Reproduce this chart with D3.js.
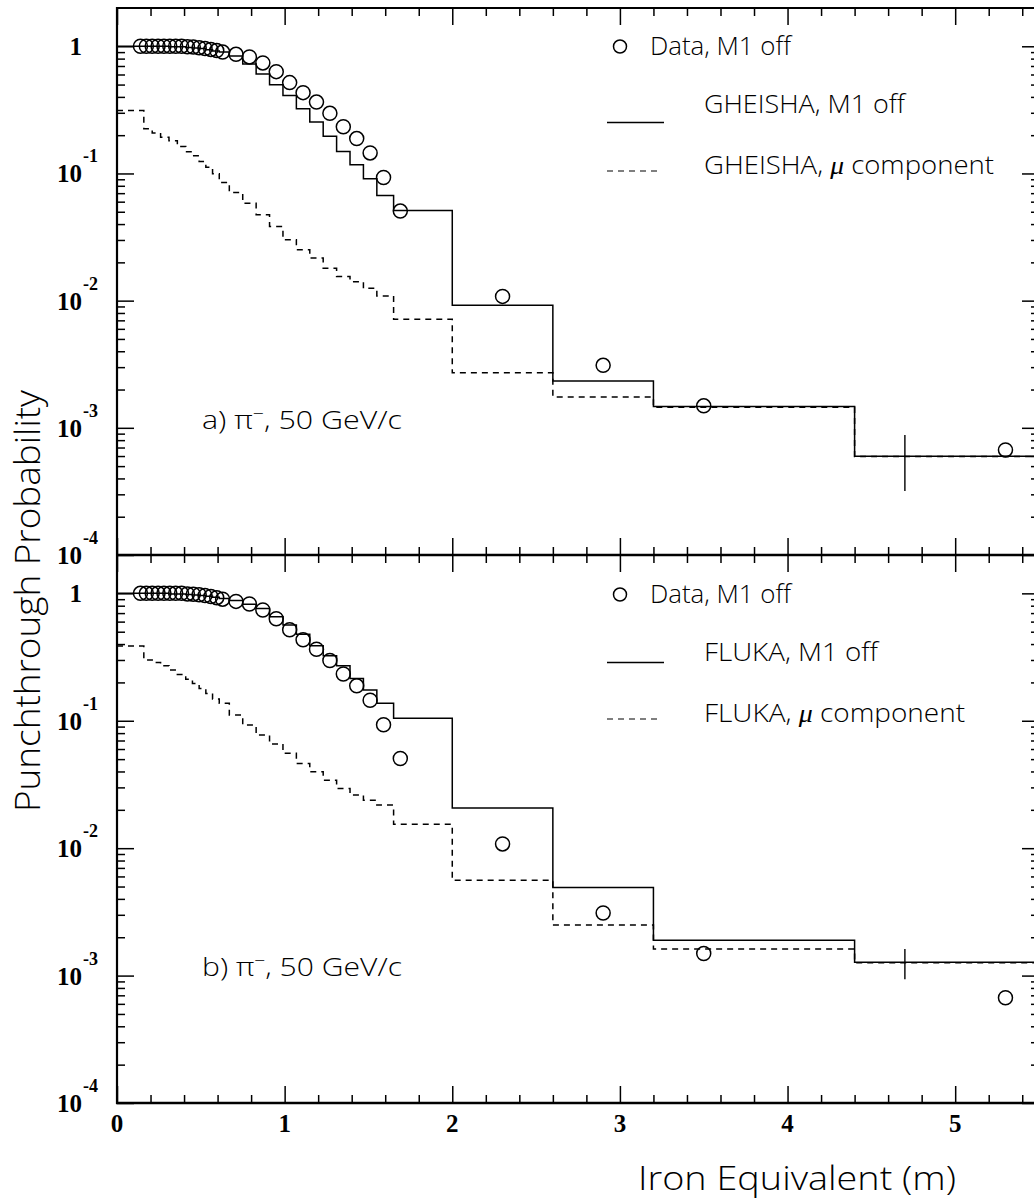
<!DOCTYPE html>
<html>
<head>
<meta charset="utf-8">
<script src="https://cdn.jsdelivr.net/npm/d3@7"></script>
<style>
body { margin: 0; background: #fff; }
svg { display: block; }
.num { font-family: "Liberation Serif", "Times New Roman", serif; font-weight: bold; }
.txt { font-family: "Open Sans", "DejaVu Sans", sans-serif; font-weight: 300; fill: #000; }
</style>
</head>
<body>
<svg id="chart" width="1034" height="1201"></svg>
<script>
// bin edges in m of iron equivalent, shared by all four histograms
var binEdges = [0, 0.16, 0.21, 0.26, 0.31, 0.36, 0.41, 0.45, 0.49, 0.53, 0.57, 0.61, 0.67,
    0.75, 0.83, 0.91, 0.99, 1.07, 1.15, 1.23, 1.31, 1.39, 1.47, 1.55, 1.65, 2.0, 2.6, 3.2, 4.4, 5.5];

// a) GHEISHA
var gheishaM1off = [1.0, 1.0, 1.0, 1.0, 0.99, 0.99, 0.98, 0.97, 0.96, 0.94, 0.92, 0.90,
    0.84, 0.726, 0.606, 0.499, 0.411, 0.323, 0.254, 0.196, 0.149, 0.117, 0.0908, 0.0671,
    0.0512, 0.0092, 0.00233, 0.00147, 0.000598];
var gheishaMu = [0.312, 0.225, 0.208, 0.193, 0.181, 0.163, 0.148, 0.138, 0.124, 0.112, 0.0995, 0.0849,
    0.0709, 0.0584, 0.0473, 0.0383, 0.0301, 0.0251, 0.0216, 0.018, 0.0155, 0.0141, 0.0125, 0.0109,
    0.00713, 0.00271, 0.00175, 0.00145, 0.000595];

// b) FLUKA
var flukaM1off = [1.0, 1.0, 1.0, 1.0, 0.99, 0.99, 0.98, 0.97, 0.96, 0.95, 0.93, 0.91,
    0.88, 0.82, 0.76, 0.656, 0.564, 0.477, 0.388, 0.324, 0.27, 0.215, 0.174, 0.137,
    0.1045, 0.0207, 0.00492, 0.00189, 0.00127];
var flukaMu = [0.386, 0.30, 0.287, 0.270, 0.25, 0.231, 0.212, 0.196, 0.179, 0.164, 0.148, 0.137,
    0.111, 0.0925, 0.0772, 0.0657, 0.0555, 0.0463, 0.0398, 0.0342, 0.0294, 0.0261, 0.0238, 0.0218,
    0.0154, 0.00559, 0.00249, 0.00162, 0.00126];

// measured punchthrough, M1 off (same in both panels)
var dataX = [0.14, 0.175, 0.21, 0.245, 0.28, 0.315, 0.35, 0.385, 0.42, 0.455, 0.49, 0.525, 0.56, 0.595, 0.63,
    0.71, 0.79, 0.87, 0.95, 1.03, 1.11, 1.19, 1.27, 1.35, 1.43, 1.51, 1.59, 1.69, 2.3, 2.9, 3.5, 5.3];
var dataY = [1, 1, 1, 1, 1, 1, 1, 1, 0.99, 0.985, 0.975, 0.96, 0.945, 0.925, 0.90,
    0.865, 0.825, 0.74, 0.632, 0.518, 0.432, 0.364, 0.297, 0.233, 0.188, 0.145, 0.093, 0.0506,
    0.0108, 0.0031, 0.00149, 0.00067];

// error bar on the last simulation bin
var errX = 4.7;
var errA = [0.000318, 0.000878];
var errB = [0.000938, 0.00162];

var xTicks = [0, 1, 2, 3, 4, 5];
var yMajor = [1e-4, 1e-3, 1e-2, 1e-1, 1];
var yExp = ["-4", "-3", "-2", "-1", ""];

var svg = d3.select("#chart");
var x = d3.scaleLinear().domain([0, 5.5]).range([117, 1039]);

var xMinor = d3.range(0, 28).map(function(i) { return i * 0.2; })
    .filter(function(v) { return Math.abs(v - Math.round(v)) > 1e-6; });
var yMinor = [];
for (var d = -4; d < 1; d++) {
    for (var m = 2; m < 10; m++) {
        var v = m * Math.pow(10, d);
        if (v < 1.99) yMinor.push(v);
    }
}

function histPoints(vals) {
    var pts = vals.map(function(v, i) { return [binEdges[i], v]; });
    pts.push([binEdges[binEdges.length - 1], vals[vals.length - 1]]);
    return pts;
}

function styleAxis(g) {
    g.select(".domain").remove();
    g.selectAll(".tick line").attr("stroke", "#000").attr("stroke-width", 1.5);
}

function drawPanel(p) {
    var y = d3.scaleLog().domain([1e-4, 2]).range([p.bottom, p.top]);
    var g = svg.append("g");

    // ticks on all four sides, pointing inward
    g.append("g").attr("transform", "translate(" + x(0) + ",0)")
        .call(d3.axisLeft(y).tickValues(yMajor).tickSize(-17).tickFormat("")).call(styleAxis);
    g.append("g").attr("transform", "translate(" + x(0) + ",0)")
        .call(d3.axisLeft(y).tickValues(yMinor).tickSize(-8).tickFormat("")).call(styleAxis);
    g.append("g").attr("transform", "translate(" + x(5.5) + ",0)")
        .call(d3.axisRight(y).tickValues(yMajor).tickSize(-17).tickFormat("")).call(styleAxis);
    g.append("g").attr("transform", "translate(" + x(5.5) + ",0)")
        .call(d3.axisRight(y).tickValues(yMinor).tickSize(-8).tickFormat("")).call(styleAxis);
    g.append("g").attr("transform", "translate(0," + p.bottom + ")")
        .call(d3.axisBottom(x).tickValues(xTicks).tickSize(-17).tickFormat("")).call(styleAxis);
    g.append("g").attr("transform", "translate(0," + p.bottom + ")")
        .call(d3.axisBottom(x).tickValues(xMinor).tickSize(-8).tickFormat("")).call(styleAxis);
    g.append("g").attr("transform", "translate(0," + p.top + ")")
        .call(d3.axisTop(x).tickValues(xTicks).tickSize(-17).tickFormat("")).call(styleAxis);
    g.append("g").attr("transform", "translate(0," + p.top + ")")
        .call(d3.axisTop(x).tickValues(xMinor).tickSize(-8).tickFormat("")).call(styleAxis);

    // y tick labels, 10 with exponent
    var lab = g.append("g").attr("class", "num");
    yMajor.forEach(function(v, i) {
        var yy = y(v);
        lab.append("text").attr("x", 82).attr("y", yy + 9)
            .attr("text-anchor", "end").attr("font-size", 25)
            .text(v === 1 ? "1" : "10");
        if (yExp[i]) {
            lab.append("text").attr("x", 83).attr("y", yy - 11)
                .attr("font-size", 18).text(yExp[i]);
        }
    });

    // histograms
    var line = d3.line()
        .x(function(d) { return x(d[0]); })
        .y(function(d) { return y(d[1]); })
        .curve(d3.curveStepAfter);
    g.append("path").attr("d", line(histPoints(p.solid)))
        .attr("fill", "none").attr("stroke", "#000").attr("stroke-width", 1.5);
    g.append("path").attr("d", line(histPoints(p.dashed)))
        .attr("fill", "none").attr("stroke", "#000").attr("stroke-width", 1.5)
        .attr("stroke-dasharray", "6,5");

    // error bar
    g.append("line").attr("x1", x(errX)).attr("x2", x(errX))
        .attr("y1", y(p.err[0])).attr("y2", y(p.err[1]))
        .attr("stroke", "#000").attr("stroke-width", 1.4);

    // data points
    g.selectAll("circle.pt").data(dataX).enter().append("circle")
        .attr("class", "pt")
        .attr("cx", function(d) { return x(d); })
        .attr("cy", function(d, i) { return y(dataY[i]); })
        .attr("r", 7)
        .attr("fill", "none").attr("stroke", "#000").attr("stroke-width", 1.5);

    // legend
    var lg = g.append("g").attr("class", "txt").attr("font-size", 25);
    lg.append("circle").attr("cx", 620).attr("cy", p.leg[0] - 8.5).attr("r", 6.5)
        .attr("fill", "none").attr("stroke", "#000").attr("stroke-width", 1.5);
    lg.append("text").attr("x", 650).attr("y", p.leg[0]).text("Data, M1 off")
        .attr("textLength", 141).attr("lengthAdjust", "spacingAndGlyphs");
    lg.append("line").attr("x1", 607).attr("x2", 664).attr("y1", p.leg[1] + p.lineOff).attr("y2", p.leg[1] + p.lineOff)
        .attr("stroke", "#000").attr("stroke-width", 1.4);
    lg.append("text").attr("x", 704).attr("y", p.leg[1]).text(p.model + ", M1 off")
        .attr("textLength", p.w1).attr("lengthAdjust", "spacingAndGlyphs");
    lg.append("line").attr("x1", 607).attr("x2", 662).attr("y1", p.leg[2] - 3).attr("y2", p.leg[2] - 3)
        .attr("stroke", "#000").attr("stroke-width", 1.2).attr("stroke-dasharray", "6,5");
    var t2 = lg.append("text").attr("x", 704).attr("y", p.leg[2])
        .attr("textLength", p.w2).attr("lengthAdjust", "spacingAndGlyphs");
    t2.append("tspan").text(p.model + ", ");
    t2.append("tspan").attr("font-style", "italic").attr("font-weight", "normal")
        .attr("font-family", "Liberation Serif, serif").text("μ");
    t2.append("tspan").text(" component");

    // panel label
    var pl = g.append("text").attr("class", "txt").attr("font-size", 25)
        .attr("x", 202).attr("y", p.labelY)
        .attr("textLength", 200).attr("lengthAdjust", "spacingAndGlyphs");
    pl.append("tspan").text(p.label + " π");
    pl.append("tspan").attr("dy", -10).attr("font-size", 16).text("−");
    pl.append("tspan").attr("dy", 10).text(", 50 GeV/c");

    return y;
}

var yA = drawPanel({top: 8, bottom: 555, solid: gheishaM1off, dashed: gheishaMu, err: errA,
    model: "GHEISHA", w1: 201, w2: 290, leg: [55, 113, 174], lineOff: 9.5, label: "a)", labelY: 429});
var yB = drawPanel({top: 555, bottom: 1103, solid: flukaM1off, dashed: flukaMu, err: errB,
    model: "FLUKA", w1: 174, w2: 261, leg: [603, 661, 722], lineOff: 1.5, label: "b)", labelY: 976});

// frame
svg.append("line").attr("x1", x(0)).attr("x2", x(0)).attr("y1", 7).attr("y2", 1104)
    .attr("stroke", "#000").attr("stroke-width", 2.2);
[8, 555, 1103].forEach(function(yy, i) {
    svg.append("line").attr("x1", x(0) - 1).attr("x2", x(5.5)).attr("y1", yy).attr("y2", yy)
        .attr("stroke", "#000").attr("stroke-width", i === 0 ? 1.8 : 2.6);
});
svg.append("line").attr("x1", x(5.5)).attr("x2", x(5.5)).attr("y1", 8).attr("y2", 1103)
    .attr("stroke", "#000").attr("stroke-width", 2);

// x tick labels
svg.append("g").attr("class", "num").selectAll("text").data(xTicks).enter().append("text")
    .attr("x", function(d) { return x(d); }).attr("y", 1132)
    .attr("text-anchor", "middle").attr("font-size", 25)
    .text(function(d) { return d; });

// axis titles
svg.append("text").attr("class", "txt").attr("font-size", 33)
    .attr("x", 956).attr("y", 1190).attr("text-anchor", "end")
    .attr("textLength", 318).attr("lengthAdjust", "spacingAndGlyphs")
    .text("Iron Equivalent (m)");
svg.append("text").attr("class", "txt").attr("font-size", 35)
    .attr("transform", "translate(40,601) rotate(-90)").attr("text-anchor", "middle")
    .attr("textLength", 422).attr("lengthAdjust", "spacingAndGlyphs")
    .text("Punchthrough Probability");
</script>
</body>
</html>
